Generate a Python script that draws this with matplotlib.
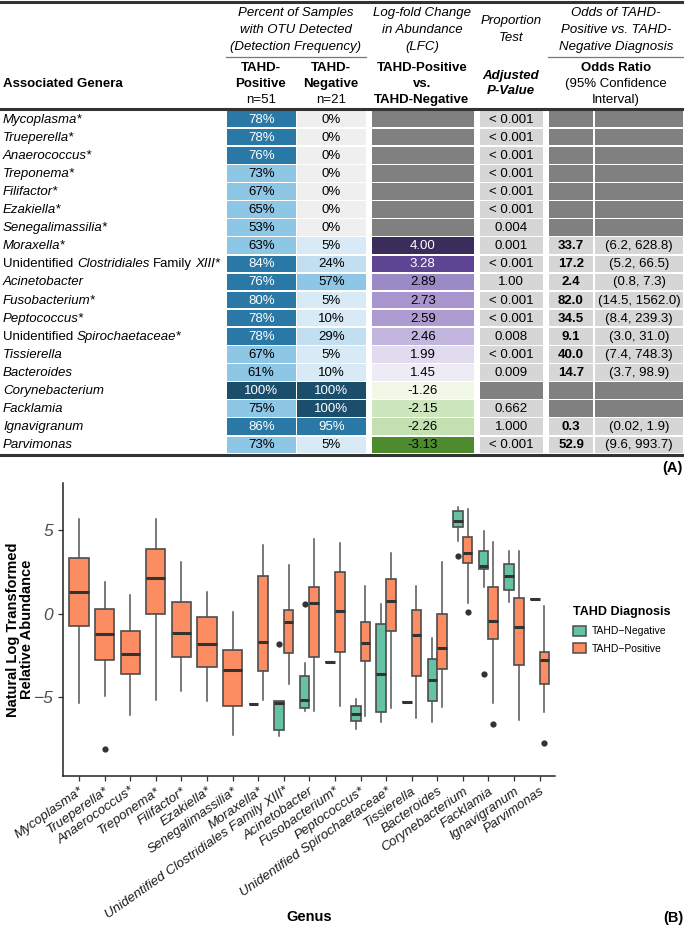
import matplotlib
matplotlib.use("Agg")
import matplotlib.pyplot as plt
from matplotlib.patches import Rectangle, Patch

plt.rcParams['font.family'] = ['Liberation Sans', 'DejaVu Sans']

# ---------------- data ----------------
genera = ["Mycoplasma*", "Trueperella*", "Anaerococcus*", "Treponema*", "Filifactor*",
          "Ezakiella*", "Senegalimassilia*", "Moraxella*",
          "Unidentified Clostridiales Family XIII*", "Acinetobacter", "Fusobacterium*",
          "Peptococcus*", "Unidentified Spirochaetaceae*", "Tissierella", "Bacteroides",
          "Corynebacterium", "Facklamia", "Ignavigranum", "Parvimonas"]
det_pos = [78, 78, 76, 73, 67, 65, 53, 63, 84, 76, 80, 78, 78, 67, 61, 100, 75, 86, 73]
det_neg = [0, 0, 0, 0, 0, 0, 0, 5, 24, 57, 5, 10, 29, 5, 10, 100, 100, 95, 5]
lfc = [None] * 7 + [4.00, 3.28, 2.89, 2.73, 2.59, 2.46, 1.99, 1.45, -1.26, -2.15, -2.26, -3.13]
pval = ["< 0.001"] * 6 + ["0.004", "0.001", "< 0.001", "1.00", "< 0.001", "< 0.001", "0.008",
                          "< 0.001", "0.009", None, "0.662", "1.000", "< 0.001"]
odds = [None] * 7 + [33.7, 17.2, 2.4, 82.0, 34.5, 9.1, 40.0, 14.7, None, None, 0.3, 52.9]
ci = [None] * 7 + ["(6.2, 628.8)", "(5.2, 66.5)", "(0.8, 7.3)", "(14.5, 1562.0)", "(8.4, 239.3)",
                   "(3.0, 31.0)", "(7.4, 748.3)", "(3.7, 98.9)", None, None, "(0.02, 1.9)",
                   "(9.6, 993.7)"]

# box stats (whislo, q1, med, q3, whishi)
pos_stats = [(-5.35, -0.70, 1.32, 3.33, 5.67), (-4.89, -2.77, -1.18, 0.30, 1.93),
             (-6.05, -3.57, -2.40, -1.02, 1.12), (-5.15, -0.02, 2.18, 3.91, 5.69),
             (-4.63, -2.55, -1.14, 0.74, 3.09), (-5.21, -3.17, -1.78, -0.18, 1.30),
             (-7.27, -5.49, -3.33, -2.16, 0.10), (-5.17, -3.43, -1.68, 2.28, 4.11),
             (-4.19, -2.36, -0.50, 0.24, 2.91), (-5.79, -2.55, 0.66, 1.64, 4.47),
             (-5.49, -2.26, 0.16, 2.51, 4.23), (-6.11, -2.84, -1.74, -0.50, 1.70),
             (-5.63, -1.04, 0.80, 2.12, 3.67), (-6.25, -3.69, -1.28, 0.26, 1.70),
             (-5.57, -3.31, -2.04, -0.02, 3.09), (0.64, 3.04, 3.63, 4.61, 6.31),
             (-5.35, -1.52, -0.42, 1.64, 4.33), (-6.37, -3.03, -0.78, 0.94, 3.77),
             (-5.85, -4.21, -2.73, -2.30, 0.50)]
pos_fliers = [[], [-8.08], [], [], [], [], [], [], [], [], [], [], [], [], [], [0.10], [-6.59], [], [-7.71]]
neg_stats = [None] * 7 + [(-5.39, -5.39, -5.39, -5.39, -5.39), (-7.31, -6.93, -5.31, -5.23, -5.23),
                          (-5.79, -5.65, -5.17, -3.71, -2.93), (-2.90, -2.90, -2.90, -2.90, -2.90),
                          (-6.87, -6.43, -5.97, -5.53, -5.09), (-6.45, -5.89, -3.57, -0.62, 0.58),
                          (-5.27, -5.27, -5.27, -5.27, -5.27), (-6.49, -5.23, -3.95, -2.67, -1.42),
                          (4.39, 5.23, 5.59, 6.17, 6.41), (1.64, 2.68, 2.86, 3.77, 4.99),
                          (0.74, 1.44, 2.29, 3.01, 3.79), (0.88, 0.88, 0.88, 0.88, 0.88)]
neg_fliers = [[]] * 8 + [[-1.78], [0.6], [], [], [], [], [], [3.49], [-3.61], [], []]
groups = ["TAHD\u2212Negative", "TAHD\u2212Positive"]

# ---------------- styles ----------------
lfc_colors = [None] * 7 + ["#3c2c5c", "#5d4594", "#9c8ac7", "#a996cf", "#ac9ad1", "#c2b6de",
                           "#e1dbef", "#eeeaf6", "#f1f8e8", "#cde6bd", "#c3e0b0", "#4e8a2e"]
GREEN, ORANGE = "#66c2a5", "#fc8d62"
NA_GRAY, LT_GRAY = "#808080", "#d6d6d6"

def det_color(v):
    if v == 0:
        return "#efefef"
    if v <= 10:
        return "#d8eaf6"
    if v <= 30:
        return "#c2dff1"
    if v < 76:
        return "#8ec6e6"
    if v < 100:
        return "#2a78a5"
    return "#1b4e6b"

W, H = 684, 932
fig = plt.figure(figsize=(W / 100, H / 100), dpi=100)
ax_t = fig.add_axes([0, 0, 1, 1])
ax_t.set_xlim(0, W)
ax_t.set_ylim(H, 0)
ax_t.axis('off')
ax_t.patch.set_alpha(0)
renderer = fig.canvas.get_renderer()

FS = 9.5
# rules
ax_t.plot([0, W], [2, 2], color="#333333", lw=2.2)
ax_t.plot([0, W], [108.5, 108.5], color="#333333", lw=2.2)
ax_t.plot([0, W], [455, 455], color="#333333", lw=2.2)
ax_t.plot([226, 366], [57, 57], color="#777777", lw=0.9)
ax_t.plot([548, W], [57, 57], color="#777777", lw=0.9)

# group headers
def hdr(x, ys, lines, **kw):
    for y, s in zip(ys, lines):
        ax_t.text(x, y, s, ha='center', va='center', fontsize=FS, **kw)

hdr(296, [13, 30, 47], ["Percent of Samples", "with OTU Detected", "(Detection Frequency)"], style='italic')
hdr(422, [13, 30, 47], ["Log-fold Change", "in Abundance", "(LFC)"], style='italic')
hdr(511, [21, 38], ["Proportion", "Test"], style='italic')
hdr(616, [13, 30, 47], ["Odds of TAHD-", "Positive vs. TAHD-", "Negative Diagnosis"], style='italic')
hdr(261, [68, 84], ["TAHD-", "Positive"], weight='bold')
hdr(261, [100], ["n=51"])
hdr(331, [68, 84], ["TAHD-", "Negative"], weight='bold')
hdr(331, [100], ["n=21"])
hdr(422, [68, 84, 100], ["TAHD-Positive", "vs.", "TAHD-Negative"], weight='bold')
hdr(511, [76, 91], ["Adjusted", "P-Value"], weight='bold', style='italic')
hdr(616, [68], ["Odds Ratio"], weight='bold')
hdr(616, [84, 100], ["(95% Confidence", "Interval)"])
ax_t.text(3, 84, "Associated Genera", ha='left', va='center', fontsize=FS, weight='bold')

# measure a space
t1 = ax_t.text(0, 0, "x x", fontsize=FS)
t2 = ax_t.text(0, 0, "xx", fontsize=FS)
SPACE = t1.get_window_extent(renderer).width - t2.get_window_extent(renderer).width
t1.remove(); t2.remove()

cols = {"pos": (226, 296.5), "neg": (296.5, 366.5), "lfc": (371, 474.5),
        "p": (479, 543.5), "or": (548, 594), "ci": (594, 684)}
TOP, RH = 110, 18.1

def cell(col, i, color, text=None, tcolor="black", **kw):
    x0, x1 = cols[col]
    y0 = TOP + i * RH
    ax_t.add_patch(Rectangle((x0 + 0.6, y0 + 0.7), x1 - x0 - 1.2, RH - 1.4,
                             facecolor=color, edgecolor='none'))
    if text is not None:
        ax_t.text((x0 + x1) / 2, y0 + RH / 2 + 0.5, text, ha='center', va='center',
                  fontsize=FS, color=tcolor, **kw)

for i, g in enumerate(genera):
    yc = TOP + i * RH + RH / 2 + 0.5
    x = 3
    for k, word in enumerate(g.split(" ")):
        st = 'normal' if word in ("Unidentified", "Family") else 'italic'
        t = ax_t.text(x, yc, word, ha='left', va='center', fontsize=FS, style=st)
        x += t.get_window_extent(renderer).width + SPACE
    dp = det_pos[i]
    cell("pos", i, det_color(dp), f"{dp}%", "white" if dp >= 76 else "black")
    dn = det_neg[i]
    cell("neg", i, det_color(dn), f"{dn}%", "white" if dn >= 76 else "black")
    if lfc[i] is None:
        cell("lfc", i, NA_GRAY)
    else:
        cell("lfc", i, lfc_colors[i], f"{lfc[i]:.2f}", "white" if lfc[i] >= 3 else "black")
    if pval[i] is None:
        cell("p", i, NA_GRAY)
    else:
        cell("p", i, LT_GRAY, pval[i])
    if odds[i] is None:
        cell("or", i, NA_GRAY)
        cell("ci", i, NA_GRAY)
    else:
        cell("or", i, LT_GRAY, f"{odds[i]:.1f}", weight='bold')
        cell("ci", i, LT_GRAY, ci[i])

ax_t.text(683, 468, "(A)", ha='right', va='center', fontsize=10.5, weight='bold')
ax_t.text(683, 918, "(B)", ha='right', va='center', fontsize=10.5, weight='bold')

# ---------------- boxplot ----------------
ax_b = fig.add_axes([63 / W, 1 - 776 / H, (555 - 63) / W, (776 - 483) / H])
ax_b.patch.set_alpha(0)

def mk(st, fl):
    return dict(whislo=st[0], q1=st[1], med=st[2], q3=st[3], whishi=st[4], fliers=fl)

common = dict(patch_artist=True, showcaps=False,
              medianprops=dict(color="#333333", linewidth=2.2, solid_capstyle='butt'),
              whiskerprops=dict(color="#555555", linewidth=1.1),
              flierprops=dict(marker='o', markerfacecolor="#333333", markeredgecolor='none',
                              markersize=4.5))
for i in range(len(genera)):
    if neg_stats[i] is None:
        pos_x, w = i, 0.75
    else:
        pos_x, w = i + 0.1875, 0.375
        b = ax_b.bxp([mk(neg_stats[i], neg_fliers[i])], positions=[i - 0.1875], widths=[0.375],
                     manage_ticks=False, **common)
        for p in b['boxes']:
            p.set(facecolor=GREEN, edgecolor="#4d4d4d", linewidth=1.2)
    b = ax_b.bxp([mk(pos_stats[i], pos_fliers[i])], positions=[pos_x], widths=[w],
                 manage_ticks=False, **common)
    for p in b['boxes']:
        p.set(facecolor=ORANGE, edgecolor="#4d4d4d", linewidth=1.2)

ax_b.set_xlim(-0.625, 18.6)
ax_b.set_ylim(-9.7, 7.84)
for s in ("top", "right"):
    ax_b.spines[s].set_visible(False)
for s in ("left", "bottom"):
    ax_b.spines[s].set_color("#222222")
    ax_b.spines[s].set_linewidth(1.1)
ax_b.set_xticks(range(len(genera)))
ax_b.set_xticklabels(genera, rotation=35, ha='right', va='top', rotation_mode='anchor',
                     fontsize=9.6, style='italic', color="#1a1a1a")
ax_b.set_yticks([-5, 0, 5])
ax_b.set_yticklabels(["\u22125", "0", "5"], fontsize=12.5, style='italic', color="#4d4d4d")
ax_b.tick_params(axis='both', length=3.5, color="#333333", width=0.9)
ax_b.tick_params(axis='x', pad=3)
ax_b.set_ylabel("Natural Log Transformed\nRelative Abundance", fontsize=10.5, weight='bold',
                linespacing=1.05)
ax_b.yaxis.set_label_coords(-0.058, 0.5)
ax_b.set_xlabel("Genus", fontsize=10.5, weight='bold')
ax_b.xaxis.set_label_coords(0.5, -(910 - 776) / (776 - 483))

handles = [Patch(facecolor=GREEN, edgecolor="#4d4d4d", linewidth=1.1),
           Patch(facecolor=ORANGE, edgecolor="#4d4d4d", linewidth=1.1)]
leg = ax_b.legend(handles, groups, title="TAHD Diagnosis", loc='upper left',
                  bbox_to_anchor=(568 / W, 1 - 601 / H), bbox_transform=fig.transFigure,
                  frameon=False, fontsize=7.5, title_fontproperties={'weight': 'bold', 'size': 9},
                  alignment='left', handlelength=1.2, handleheight=1.1, labelspacing=0.7,
                  borderpad=0, handletextpad=0.6)

fig.savefig("out.png", dpi=100)
